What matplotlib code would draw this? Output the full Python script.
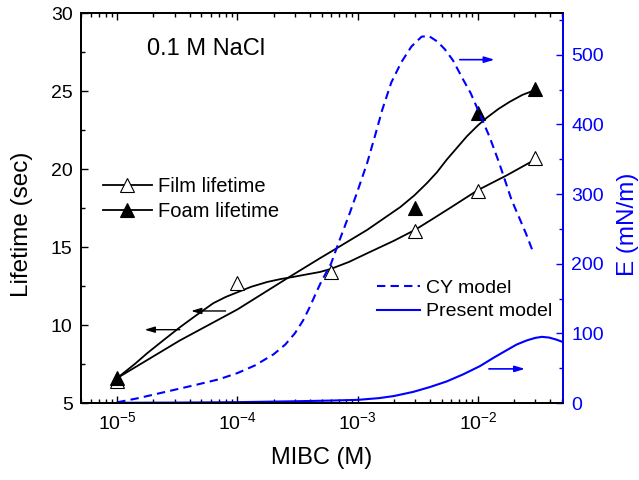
import matplotlib
matplotlib.use('Agg')
import matplotlib.pyplot as plt
from matplotlib.ticker import MultipleLocator, LogLocator, NullFormatter

plt.rcParams['font.family'] = ['Liberation Sans', 'DejaVu Sans']
plt.rcParams['mathtext.fontset'] = 'custom'
plt.rcParams['mathtext.rm'] = 'Liberation Sans'

# measured points
film_x = [1e-5, 1e-4, 6e-4, 3e-3, 1e-2, 3e-2]
film_y = [6.4, 12.7, 13.4, 16.0, 18.6, 20.7]
foam_x = [1e-5, 3e-3, 1e-2, 3e-2]
foam_y = [6.6, 17.5, 23.6, 25.1]

# fitted lifetime curves
film_fit_x = [1e-5, 1.4e-5, 1.78e-5, 2.4e-5, 3.34e-5, 4.5e-5, 6.3e-5, 8e-5,
              1e-4, 1.3e-4, 1.77e-4, 2.3e-4, 2.9e-4, 3.8e-4, 4.86e-4, 6e-4,
              8.5e-4, 1.2e-3, 2e-3, 3e-3, 4.2e-3, 5.85e-3, 1e-2, 1.74e-2, 2.98e-2]
film_fit_y = [6.6, 7.5, 8.2, 9.0, 9.87, 10.6, 11.4, 11.8,
              12.1, 12.45, 12.76, 12.95, 13.08, 13.25, 13.4, 13.6,
              14.05, 14.6, 15.4, 16.1, 16.8, 17.5, 18.65, 19.6, 20.6]
foam_fit_x = [1e-5, 3.3e-5, 1e-4, 2.6e-4, 4.9e-4, 6.3e-4, 1.2e-3, 2.26e-3,
              2.95e-3, 3.77e-3, 4.57e-3, 5.5e-3, 6.76e-3, 8.1e-3, 1e-2,
              1.19e-2, 1.48e-2, 1.83e-2, 2.34e-2, 2.98e-2]
foam_fit_y = [6.6, 9.0, 11.0, 13.0, 14.3, 14.8, 16.1, 17.56,
              18.3, 19.1, 19.8, 20.6, 21.4, 22.1, 22.8,
              23.3, 23.85, 24.3, 24.75, 25.06]

# elasticity models
cy_x = [1e-5, 1.5e-5, 2e-5, 3e-5, 4.5e-5, 7e-5, 1e-4, 1.4e-4, 2e-4, 2.5e-4,
        3e-4, 3.5e-4, 4e-4, 4.5e-4, 5e-4, 6e-4, 7e-4, 8.6e-4, 1e-3, 1.2e-3,
        1.4e-3, 1.6e-3, 1.9e-3, 2.3e-3, 2.8e-3, 3.4e-3, 3.9e-3, 4.6e-3,
        5.3e-3, 6.2e-3, 7.5e-3, 8.7e-3, 1e-2, 1.25e-2, 1.5e-2, 1.9e-2,
        2.5e-2, 2.9e-2]
cy_e = [1, 7, 12, 19, 26, 34, 43, 54, 70, 84,
        100, 118, 138, 158, 175, 200, 232, 273, 305, 345,
        385, 421, 460, 489, 512, 526, 527, 519,
        508, 492, 465, 445, 421, 382, 345, 292,
        244, 215]
present_x = [1e-5, 3e-5, 1e-4, 3e-4, 6e-4, 1e-3, 1.5e-3, 2e-3, 2.9e-3, 4e-3,
             5.5e-3, 7.5e-3, 1.04e-2, 1.35e-2, 1.74e-2, 2.1e-2, 2.56e-2,
             3e-2, 3.4e-2, 3.9e-2, 4.5e-2, 5e-2]
present_e = [0.3, 0.6, 1.2, 2.5, 3.5, 4.5, 7, 10, 16, 23,
             31, 41, 53, 65, 76, 84, 90,
             93.5, 95, 94, 91, 88]

blue = '#0000FF'

fig = plt.figure(figsize=(6.39, 4.8), dpi=100)
ax = fig.add_axes([0.1268, 0.1604, 0.7543, 0.8125])
ax2 = ax.twinx()

ax.plot(film_fit_x, film_fit_y, color='black', lw=1.3)
ax.plot(foam_fit_x, foam_fit_y, color='black', lw=1.3)
ax.plot(film_x, film_y, ls='none', marker='^', ms=10, mfc='white', mec='black', mew=0.8)
ax.plot(foam_x, foam_y, ls='none', marker='^', ms=10, mfc='black', mec='black', mew=0.8)

# legend proxies
h1, = ax.plot([], [], color='black', lw=1.3, marker='^', ms=10, mfc='white', mec='black', mew=0.8)
h2, = ax.plot([], [], color='black', lw=1.3, marker='^', ms=10, mfc='black', mec='black', mew=0.8)
ax.legend([h1, h2], ['Film lifetime', 'Foam lifetime'], loc='upper left',
          bbox_to_anchor=(0.046, 0.58), frameon=False, fontsize=14.5, numpoints=1,
          handlelength=2.4, handletextpad=0.3, borderpad=0, borderaxespad=0,
          labelspacing=0.32)

c1, = ax2.plot(cy_x, cy_e, color=blue, lw=1.5, ls='--', dashes=(4, 2.5))
c2, = ax2.plot(present_x, present_e, color=blue, lw=1.5)
ax2.legend([c1, c2], ['CY model', 'Present model'], loc='upper left',
           bbox_to_anchor=(0.614, 0.317), frameon=False, fontsize=14,
           handlelength=2.2, handletextpad=0.3, borderpad=0, borderaxespad=0,
           labelspacing=0.3)

arrow_k = dict(arrowstyle='-|>,head_length=0.6,head_width=0.18', color='black', lw=1.0)
arrow_b = dict(arrowstyle='-|>,head_length=0.6,head_width=0.18', color=blue, lw=1.2)
ax.annotate('', xy=(3.9e-5, 10.9), xytext=(8.4e-5, 10.9), arrowprops=arrow_k)
ax.annotate('', xy=(1.6e-5, 9.7), xytext=(3.5e-5, 9.7), arrowprops=arrow_k)
ax2.annotate('', xy=(1.45e-2, 493), xytext=(6.7e-3, 493), arrowprops=arrow_b)
ax2.annotate('', xy=(2.6e-2, 49), xytext=(1.17e-2, 49), arrowprops=arrow_b)

ax.text(0.137, 0.892, '0.1 M NaCl', transform=ax.transAxes, fontsize=17, va='baseline')

ax.set_xscale('log')
ax.set_xlim(5e-6, 5.1e-2)
ax.set_ylim(5, 30)
ax2.set_ylim(0, 560)
ax.xaxis.set_major_locator(LogLocator(base=10, numticks=10))
ax.xaxis.set_minor_locator(LogLocator(base=10, subs=range(2, 10), numticks=20))
ax.xaxis.set_minor_formatter(NullFormatter())
ax.yaxis.set_major_locator(MultipleLocator(5))
ax.yaxis.set_minor_locator(MultipleLocator(2.5))
ax2.yaxis.set_major_locator(MultipleLocator(100))
ax2.yaxis.set_minor_locator(MultipleLocator(50))

ax.tick_params(which='both', direction='in', top=True, right=False, labelsize=14, pad=6, width=1)
ax.tick_params(which='major', length=5)
ax.tick_params(which='minor', length=3)
ax2.tick_params(which='both', direction='in', colors=blue, labelsize=14, pad=6, width=1)
ax2.tick_params(which='major', length=5)
ax2.tick_params(which='minor', length=3)

for s in ax.spines.values():
    s.set_linewidth(1.3)
for s in ax2.spines.values():
    s.set_linewidth(1.3)
ax2.spines['right'].set_color(blue)

ax.set_xlabel('MIBC (M)', fontsize=17, labelpad=10)
ax.set_ylabel('Lifetime (sec)', fontsize=17.5)
ax2.set_ylabel('E (mN/m)', fontsize=17.5, color=blue)
ax.yaxis.set_label_coords(-0.1, 0.459)
ax2.yaxis.set_label_coords(1.112, 0.459)

fig.savefig('out.png', dpi=100)
